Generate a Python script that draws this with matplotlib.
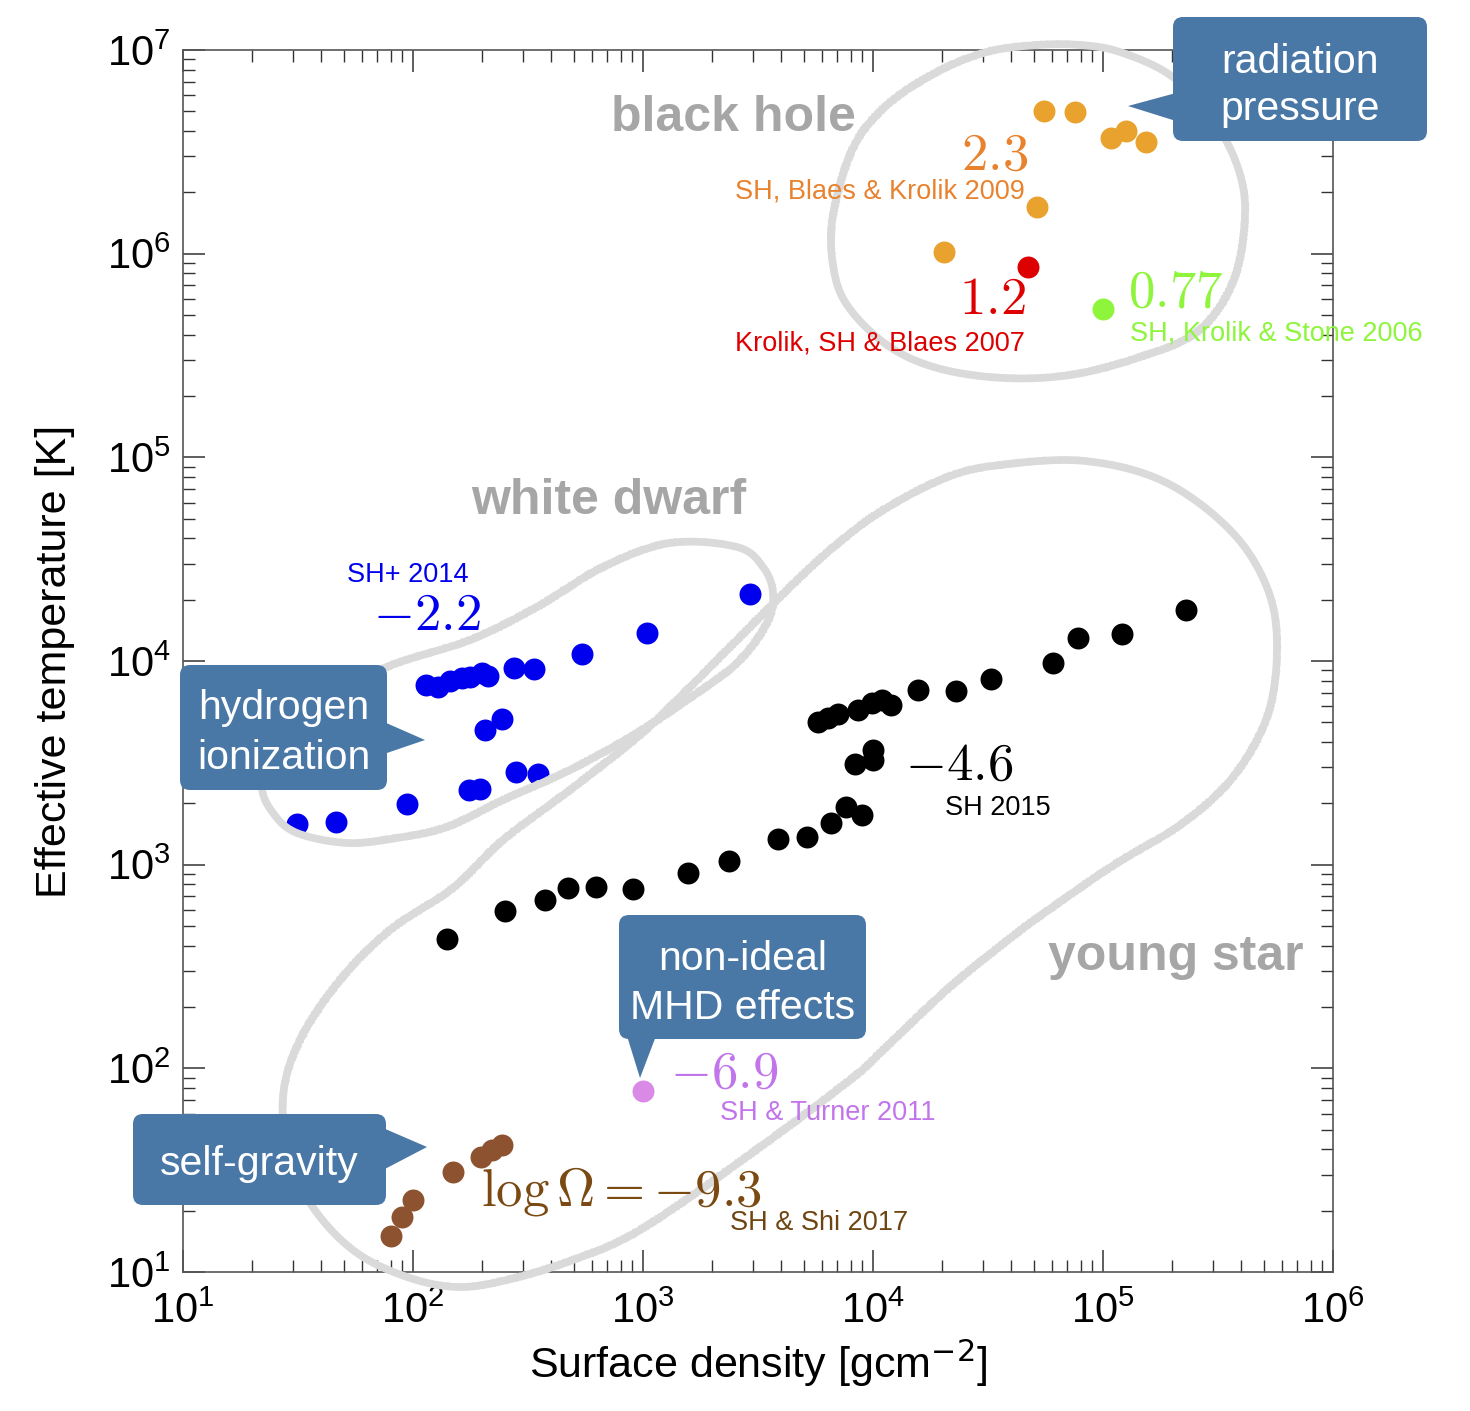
import numpy as np
import matplotlib
matplotlib.use("Agg")
import matplotlib.pyplot as plt
from matplotlib.patches import FancyBboxPatch, Polygon
from matplotlib.ticker import LogLocator, LogFormatterSciNotation, NullFormatter

plt.rcParams["font.family"] = ["Liberation Sans", "DejaVu Sans"]

W, H = 1470, 1411

# ---- data (surface density [g cm^-2], effective temperature [K]) ----
sg_sigma = [80, 90, 100, 149, 198, 220, 244]
sg_teff = [15.0, 18.6, 22.6, 31.0, 36.7, 39.7, 42.0]

turner_sigma = [1000]
turner_teff = [77]

krolik06_sigma = [1.0e5]
krolik06_teff = [5.35e5]

krolik07_sigma = [4.72e4]
krolik07_teff = [8.6e5]

blaes09_sigma = [2.04e4, 5.16e4, 5.54e4, 7.55e4, 1.08e5, 1.26e5, 1.54e5]
blaes09_teff = [1.02e6, 1.69e6, 5.0e6, 4.97e6, 3.70e6, 4.0e6, 3.53e6]

wd14_sigma = [31.3, 46.3, 94.2, 175, 195, 280, 349, 206, 244, 114, 128, 145,
              163, 177, 200, 212, 275, 336, 543, 1041, 2918]
wd14_teff = [1585, 1622, 1986, 2327, 2350, 2851, 2788, 4583, 5190, 7620, 7450,
             7980, 8260, 8340, 8730, 8440, 9240, 9150, 10810, 13740, 21330]

ys15_sigma = [141, 251, 375, 472, 625, 905, 1570, 2366, 3863, 5165, 6566, 7635,
              8955, 8350, 1.0e4, 1.0e4, 5766, 6370, 7046, 8610, 9900, 1.09e4,
              1.2e4, 1.57e4, 2.30e4, 3.26e4, 6.07e4, 7.78e4, 1.21e5, 2.30e5]
ys15_teff = [431, 593, 671, 768, 776, 760, 910, 1042, 1337, 1368, 1603, 1920,
             1754, 3120, 3656, 3266, 5012, 5250, 5495, 5745, 6223, 6440,
             6080, 7210, 7130, 8160, 9780, 12970, 13580, 17800]

x_ticks = [1e1, 1e2, 1e3, 1e4, 1e5, 1e6]
y_ticks = [1e1, 1e2, 1e3, 1e4, 1e5, 1e6, 1e7]

# ---- hand-drawn loop outlines (figure pixels) ----
loop_black_hole = [(1037, 45), (987, 52), (937, 72), (887, 105), (853, 148),
                   (833, 215), (833, 265), (847, 305), (887, 345), (937, 368),
                   (1003, 378), (1070, 375), (1137, 358), (1197, 332), (1233, 282),
                   (1245, 215), (1237, 165), (1210, 115), (1170, 75), (1120, 52),
                   (1080, 45)]
loop_white_dwarf = [(387, 667), (470, 640), (537, 607), (603, 567), (670, 543),
                    (737, 547), (763, 567), (773, 593), (767, 623), (737, 663),
                    (687, 700), (637, 733), (570, 770), (503, 800), (447, 827),
                    (397, 838), (347, 843), (297, 833), (273, 813), (262, 785),
                    (275, 745), (320, 705)]
loop_young_star = [(1000, 465), (1085, 461), (1165, 482), (1232, 532), (1268, 590),
                   (1277, 650), (1267, 717), (1233, 777), (1183, 823), (1117, 863),
                   (1067, 897), (1017, 933), (950, 987), (883, 1050), (850, 1080),
                   (745, 1158), (640, 1230), (573, 1260), (507, 1280), (457, 1287),
                   (407, 1277), (357, 1253), (317, 1213), (290, 1163), (283, 1097),
                   (300, 1040), (340, 980), (390, 930), (453, 888), (503, 840),
                   (570, 790), (640, 735), (687, 690), (737, 640), (787, 590),
                   (830, 550), (880, 512), (945, 478)]

BOX = "#4a78a6"
GREY_LABEL = "#a6a6a6"
CHALK = "#dadada"


def smooth_closed(pts, n=30):
    P = np.array(pts, float)
    N = len(P)
    t = np.linspace(0, 1, n, endpoint=False)[:, None]
    out = []
    for i in range(N):
        p0, p1, p2, p3 = P[i - 1], P[i], P[(i + 1) % N], P[(i + 2) % N]
        out.append(0.5 * (2 * p1 + (-p0 + p2) * t
                          + (2 * p0 - 5 * p1 + 4 * p2 - p3) * t ** 2
                          + (-p0 + 3 * p1 - 3 * p2 + p3) * t ** 3))
    out = np.vstack(out)
    return np.vstack([out, out[:1]])


fig = plt.figure(figsize=(W / 100, H / 100), dpi=100)
ax = fig.add_axes([183 / W, 1 - 1272 / H, 1150 / W, 1222 / H])

ax.set_xscale("log")
ax.set_yscale("log")

ms = 250
ax.scatter(sg_sigma, sg_teff, s=ms, color="#8d5331", lw=0, zorder=3)
ax.scatter(turner_sigma, turner_teff, s=ms, color="#d98ae6", lw=0, zorder=3)
ax.scatter(krolik06_sigma, krolik06_teff, s=ms, color="#8ef53c", lw=0, zorder=3)
ax.scatter(krolik07_sigma, krolik07_teff, s=ms, color="#dd0000", lw=0, zorder=3)
ax.scatter(blaes09_sigma, blaes09_teff, s=ms, color="#e9a22d", lw=0, zorder=3)
ax.scatter(wd14_sigma, wd14_teff, s=ms, color="#0000ee", lw=0, zorder=3)
ax.scatter(ys15_sigma, ys15_teff, s=ms, color="black", lw=0, zorder=3)

ax.set_xticks(x_ticks)
ax.set_yticks(y_ticks)
ax.xaxis.set_minor_locator(LogLocator(base=10, subs=np.arange(2, 10), numticks=20))
ax.yaxis.set_minor_locator(LogLocator(base=10, subs=np.arange(2, 10), numticks=20))
ax.xaxis.set_major_formatter(LogFormatterSciNotation())
ax.yaxis.set_major_formatter(LogFormatterSciNotation())
ax.xaxis.set_minor_formatter(NullFormatter())
ax.yaxis.set_minor_formatter(NullFormatter())
ax.set_xlim(10, 1e6)
ax.set_ylim(10, 1e7)
ax.tick_params(which="both", direction="in", top=True, right=True, color="#333333")
ax.tick_params(which="major", length=16, width=1.1, labelsize=30)
ax.tick_params(which="minor", length=8.5, width=1.0)
ax.tick_params(axis="x", which="major", pad=14)
ax.tick_params(axis="y", which="major", pad=9)
for sp in ax.spines.values():
    sp.set_color("#555555")
    sp.set_linewidth(1.2)

ax.set_xlabel(r"Surface density [gcm$^{-2}$]", fontsize=31)
ax.set_ylabel("Effective temperature [K]", fontsize=31)
ax.xaxis.set_label_coords(0.5, -0.054)
ax.yaxis.set_label_coords(-0.094, 0.5)

# ---- overlay in figure pixels for loops, labels and callouts ----
ov = fig.add_axes([0, 0, 1, 1], facecolor="none")
ov.set_xlim(0, W)
ov.set_ylim(H, 0)
ov.axis("off")
ov.set_zorder(5)

for loop in (loop_black_hole, loop_white_dwarf, loop_young_star):
    xy = smooth_closed(loop)
    ov.plot(xy[:, 0], xy[:, 1], color=CHALK, lw=5.5, solid_capstyle="round", zorder=1)
    for dx, dy in ((1.9, 1.3), (-1.6, -1.7), (0.4, -0.3)):
        line, = ov.plot(xy[:, 0] + dx, xy[:, 1] + dy, color=CHALK, lw=1.6,
                        alpha=0.9, zorder=1)
        line.set_sketch_params(scale=1.4, length=3, randomness=2)

# region names
for txt, x, y in (("black hole", 733, 131), ("white dwarf", 609, 514), ("young star", 1176, 970)):
    ov.text(x, y, txt, fontsize=36, fontweight="bold", color=GREY_LABEL,
            ha="center", va="baseline", zorder=2)

# growth-rate numbers
cm = dict(math_fontfamily="cm", fontsize=38, va="baseline", zorder=2)
ov.text(1028, 170, r"$2.3$", color="#e8822e", ha="right", **cm)
ov.text(1026, 314, r"$1.2$", color="#dd0000", ha="right", **cm)
ov.text(1128, 306, r"$0.77$", color="#8ef53c", ha="left", **cm)
ov.text(427, 630, r"$-2.2$", color="#0000ee", ha="center", **cm)
ov.text(905, 780, r"$-4.6$", color="black", ha="left", **cm)
ov.text(670, 1088, r"$-6.9$", color="#c274ea", ha="left", **cm)
ov.text(481, 1205, r"$\log\Omega=-9.3$", color="#7a4a12", ha="left", **cm)

# references
ref = dict(fontsize=19.5, va="baseline", zorder=2)
ov.text(1025, 199, "SH, Blaes & Krolik 2009", color="#e8822e", ha="right", **ref)
ov.text(1025, 350, "Krolik, SH & Blaes 2007", color="#dd0000", ha="right", **ref)
ov.text(1130, 340, "SH, Krolik & Stone 2006", color="#8ef53c", ha="left", **ref)
ov.text(408, 582, "SH+ 2014", color="#0000ee", ha="center", **ref)
ov.text(945, 815, "SH 2015", color="black", ha="left", **ref)
ov.text(720, 1120, "SH & Turner 2011", color="#c274ea", ha="left", **ref)
ov.text(730, 1230, "SH & Shi 2017", color="#6e4512", ha="left", **ref)

# callouts: box (x0, y0, x1, y1), pointer triangle, lines of text
callouts = [
    ((1173, 17, 1427, 141), [(1176, 93), (1128, 106), (1176, 121)],
     [("radiation", 73), ("pressure", 120)]),
    ((180, 665, 387, 790), [(384, 722), (425, 740), (384, 754)],
     [("hydrogen", 719), ("ionization", 769)]),
    ((619, 915, 866, 1039), [(627, 1036), (640, 1078), (656, 1036)],
     [("non-ideal", 970), ("MHD effects", 1019)]),
    ((133, 1114, 386, 1205), [(383, 1128), (427, 1147), (383, 1170)],
     [("self-gravity", 1175)]),
]
for (x0, y0, x1, y1), tri, lines in callouts:
    ov.add_patch(FancyBboxPatch((x0 + 8, y0 + 8), x1 - x0 - 16, y1 - y0 - 16,
                                boxstyle="round,pad=8,rounding_size=10",
                                fc=BOX, ec="none", zorder=6))
    ov.add_patch(Polygon(tri, closed=True, fc=BOX, ec="none", zorder=6))
    cx = (x0 + x1) / 2
    for s, yb in lines:
        ov.text(cx, yb, s, fontsize=29.5, color="white", ha="center",
                va="baseline", zorder=7)

fig.savefig("out.png", dpi=100)
